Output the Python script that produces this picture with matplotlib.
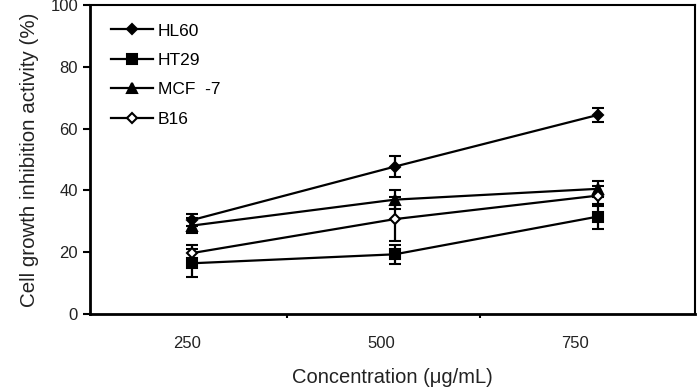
import matplotlib.pyplot as plt

plt.rcParams["font.family"] = ["Liberation Sans", "DejaVu Sans"]

concentrations = [250, 500, 750]
tick_labels = ["250", "500", "750"]

hl60 = [30.4, 47.7, 64.4]
hl60_err = [2.0, 3.5, 2.3]
ht29 = [16.4, 19.3, 31.5]
ht29_err = [4.5, 3.0, 4.0]
mcf7 = [28.6, 37.0, 40.5]
mcf7_err = [2.5, 3.0, 2.6]
b16 = [19.7, 30.7, 38.3]
b16_err = [2.5, 7.0, 3.2]

fig = plt.figure(figsize=(6.97, 3.89), dpi=100)
ax = fig.add_axes([0.129, 0.193, 0.868, 0.794])

series = [
    ("HL60", hl60, hl60_err, "D", "black", 5.5),
    ("HT29", ht29, ht29_err, "s", "black", 6.5),
    ("MCF  -7", mcf7, mcf7_err, "^", "black", 7),
    ("B16", b16, b16_err, "D", "white", 5),
]
handles = []
for label, vals, err, marker, face, ms in series:
    c = ax.errorbar(concentrations, vals, yerr=err, color="black", lw=1.6,
                    marker=marker, ms=ms, mfc=face, mec="black", mew=1.5,
                    capsize=4, capthick=1.6, elinewidth=1.6, label=label)
    handles.append(c[0])

ax.set_ylim(0, 100)
ax.set_yticks(range(0, 101, 20))
ax.set_xlim(124, 870)
# tick marks between categories, labels offset as in the original
ax.set_xticks([367, 605])
ax.set_xticklabels([])
ax.set_xticks([244, 483, 722], minor=True)
ax.set_xticklabels(tick_labels, minor=True)
ax.tick_params(axis="x", which="major", direction="out", length=3, width=1.5)
ax.tick_params(axis="x", which="minor", length=0, pad=16, labelsize=12, colors="#222222")
ax.tick_params(axis="y", direction="out", length=5, width=1.5, labelsize=12, colors="#222222")
ax.tick_params(axis="both", color="black")

for side in ["left", "bottom"]:
    ax.spines[side].set_linewidth(2.0)
for side in ["top", "right"]:
    ax.spines[side].set_linewidth(1.5)

ax.set_xlabel("Concentration (\u03bcg/mL)", fontsize=14.5, labelpad=12, color="#222222")
ax.set_ylabel("Cell growth inhibition activity (%)", fontsize=14.8, labelpad=8, color="#222222")

ax.legend(handles, [s[0] for s in series], loc="upper left", frameon=False,
          fontsize=12.5, handlelength=2.4, handletextpad=0.3, labelspacing=0.82,
          borderaxespad=0.3, bbox_to_anchor=(0.015, 0.98))

fig.savefig("out.png", dpi=100)
